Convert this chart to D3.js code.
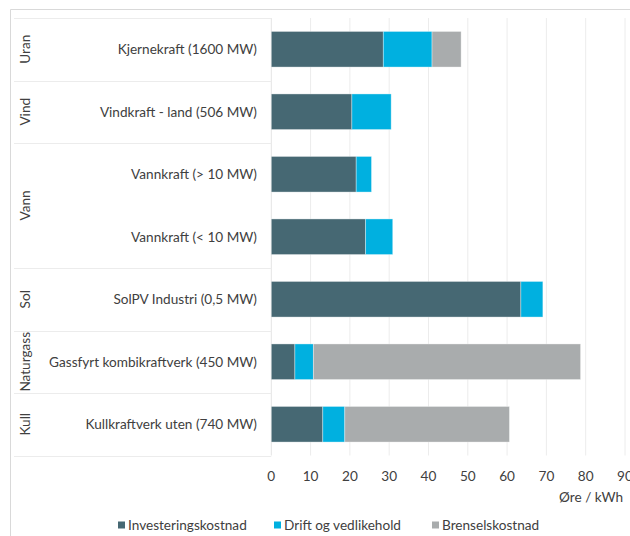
<!DOCTYPE html>
<html>
<head>
<meta charset="utf-8">
<script src="https://cdn.jsdelivr.net/npm/d3@7"></script>
<style>
  body { margin: 0; background: #fff; }
  svg { display: block; font-family: Lato, "Open Sans", sans-serif; }
</style>
</head>
<body>
<svg id="chart"></svg>
<script>
const techs = [
  "Kjernekraft (1600 MW)",
  "Vindkraft - land (506 MW)",
  "Vannkraft (> 10 MW)",
  "Vannkraft (< 10 MW)",
  "SolPV Industri (0,5 MW)",
  "Gassfyrt kombikraftverk (450 MW)",
  "Kullkraftverk uten (740 MW)",
];
const techGroup = ["Uran", "Vind", "Vann", "Vann", "Sol", "Naturgass", "Kull"];
const invest = [28.5, 20.5, 21.6, 24.0, 63.5, 6.0, 13.1];
const drift = [12.4, 10.0, 3.9, 6.9, 5.6, 4.7, 5.6];
const bren = [7.4, 0, 0, 0, 0, 68.0, 41.9];
const seriesNames = ["Investeringskostnad", "Drift og vedlikehold", "Brenselskostnad"];
const xTicks = [0, 10, 20, 30, 40, 50, 60, 70, 80, 90];
const axisTitle = "Øre / kWh";

const colors = ["#466873", "#00b0e0", "#a9acad"];
const width = 630, height = 536;
const fontSize = 13.6;

const svg = d3.select("#chart").attr("width", width).attr("height", height);

const rows = techs.map((t, i) => ({
  tech: t, group: techGroup[i],
  [seriesNames[0]]: invest[i], [seriesNames[1]]: drift[i], [seriesNames[2]]: bren[i],
}));

const x = d3.scaleLinear().domain([0, 90]).range([271.3, 625]);
const y = d3.scaleBand().domain(techs).range([18, 455.5])
  .paddingInner(0.43).paddingOuter(0.215);

// outer frame
svg.append("line").attr("x1", 10.5).attr("x2", width).attr("y1", 9.5).attr("y2", 9.5)
  .attr("stroke", "#d9d9d9");
svg.append("line").attr("x1", 10.5).attr("x2", 10.5).attr("y1", 9.5).attr("y2", height)
  .attr("stroke", "#d9d9d9");

// gridlines
svg.append("g").selectAll("line").data(xTicks).join("line")
  .attr("x1", d => x(d)).attr("x2", d => x(d))
  .attr("y1", 18).attr("y2", 455.5)
  .attr("stroke", d => d === 0 ? "#e4e4e4" : "#ececec");

// group separators in the label area
const groupSpans = [];
rows.forEach(r => {
  const last = groupSpans[groupSpans.length - 1];
  if (last && last.name === r.group) last.end = r.tech;
  else groupSpans.push({ name: r.group, start: r.tech, end: r.tech });
});
const step = y.step();
const rowTop = d => y(d) - y.paddingInner() * step / 2;
const rowBottom = d => y(d) + y.bandwidth() + y.paddingInner() * step / 2;

const sepY = [rowTop(techs[0])].concat(groupSpans.map(g => rowBottom(g.end)));
svg.append("g").selectAll("line").data(sepY).join("line")
  .attr("x1", 14).attr("x2", x(0))
  .attr("y1", d => Math.round(d) + 0.5).attr("y2", d => Math.round(d) + 0.5)
  .attr("stroke", "#ececec");

svg.append("g").selectAll("text").data(groupSpans).join("text")
  .attr("transform", g => `translate(30,${(rowTop(g.start) + rowBottom(g.end)) / 2}) rotate(-90)`)
  .attr("text-anchor", "middle")
  .attr("font-size", fontSize)
  .attr("fill", "#404040")
  .text(g => g.name);

// category labels
svg.append("g").selectAll("text").data(techs).join("text")
  .attr("x", 257).attr("y", d => y(d) + y.bandwidth() / 2)
  .attr("dy", "0.35em")
  .attr("text-anchor", "end")
  .attr("font-size", fontSize)
  .attr("fill", "#404040")
  .text(d => d);

// stacked bars
const stack = d3.stack().keys(seriesNames)(rows);
svg.append("g").selectAll("g").data(stack).join("g")
  .attr("fill", (d, i) => colors[i])
  .selectAll("rect").data(d => d.filter(p => p[1] > p[0])).join("rect")
  .attr("x", d => x(d[0]))
  .attr("width", d => x(d[1]) - x(d[0]))
  .attr("y", d => y(d.data.tech))
  .attr("height", y.bandwidth())
  .attr("stroke", "#ffffff").attr("stroke-opacity", 0.45).attr("stroke-width", 0.8);

// x tick labels
svg.append("g").selectAll("text").data(xTicks).join("text")
  .attr("x", d => x(d)).attr("y", 476)
  .attr("dy", "0.35em")
  .attr("text-anchor", "middle")
  .attr("font-size", fontSize)
  .attr("fill", "#404040")
  .text(d => d);

svg.append("text")
  .attr("x", 623).attr("y", 497).attr("dy", "0.35em")
  .attr("text-anchor", "end")
  .attr("font-size", fontSize)
  .attr("fill", "#404040")
  .text(axisTitle);

// legend
const legendX = [118, 274, 432];
const legend = svg.append("g").selectAll("g").data(seriesNames).join("g")
  .attr("transform", (d, i) => `translate(${legendX[i]},525)`);
legend.append("rect").attr("x", 0).attr("y", -3.5).attr("width", 7).attr("height", 7)
  .attr("fill", (d, i) => colors[i]);
legend.append("text").attr("x", 10).attr("dy", "0.35em")
  .attr("font-size", fontSize).attr("fill", "#404040")
  .text(d => d);
</script>
</body>
</html>
